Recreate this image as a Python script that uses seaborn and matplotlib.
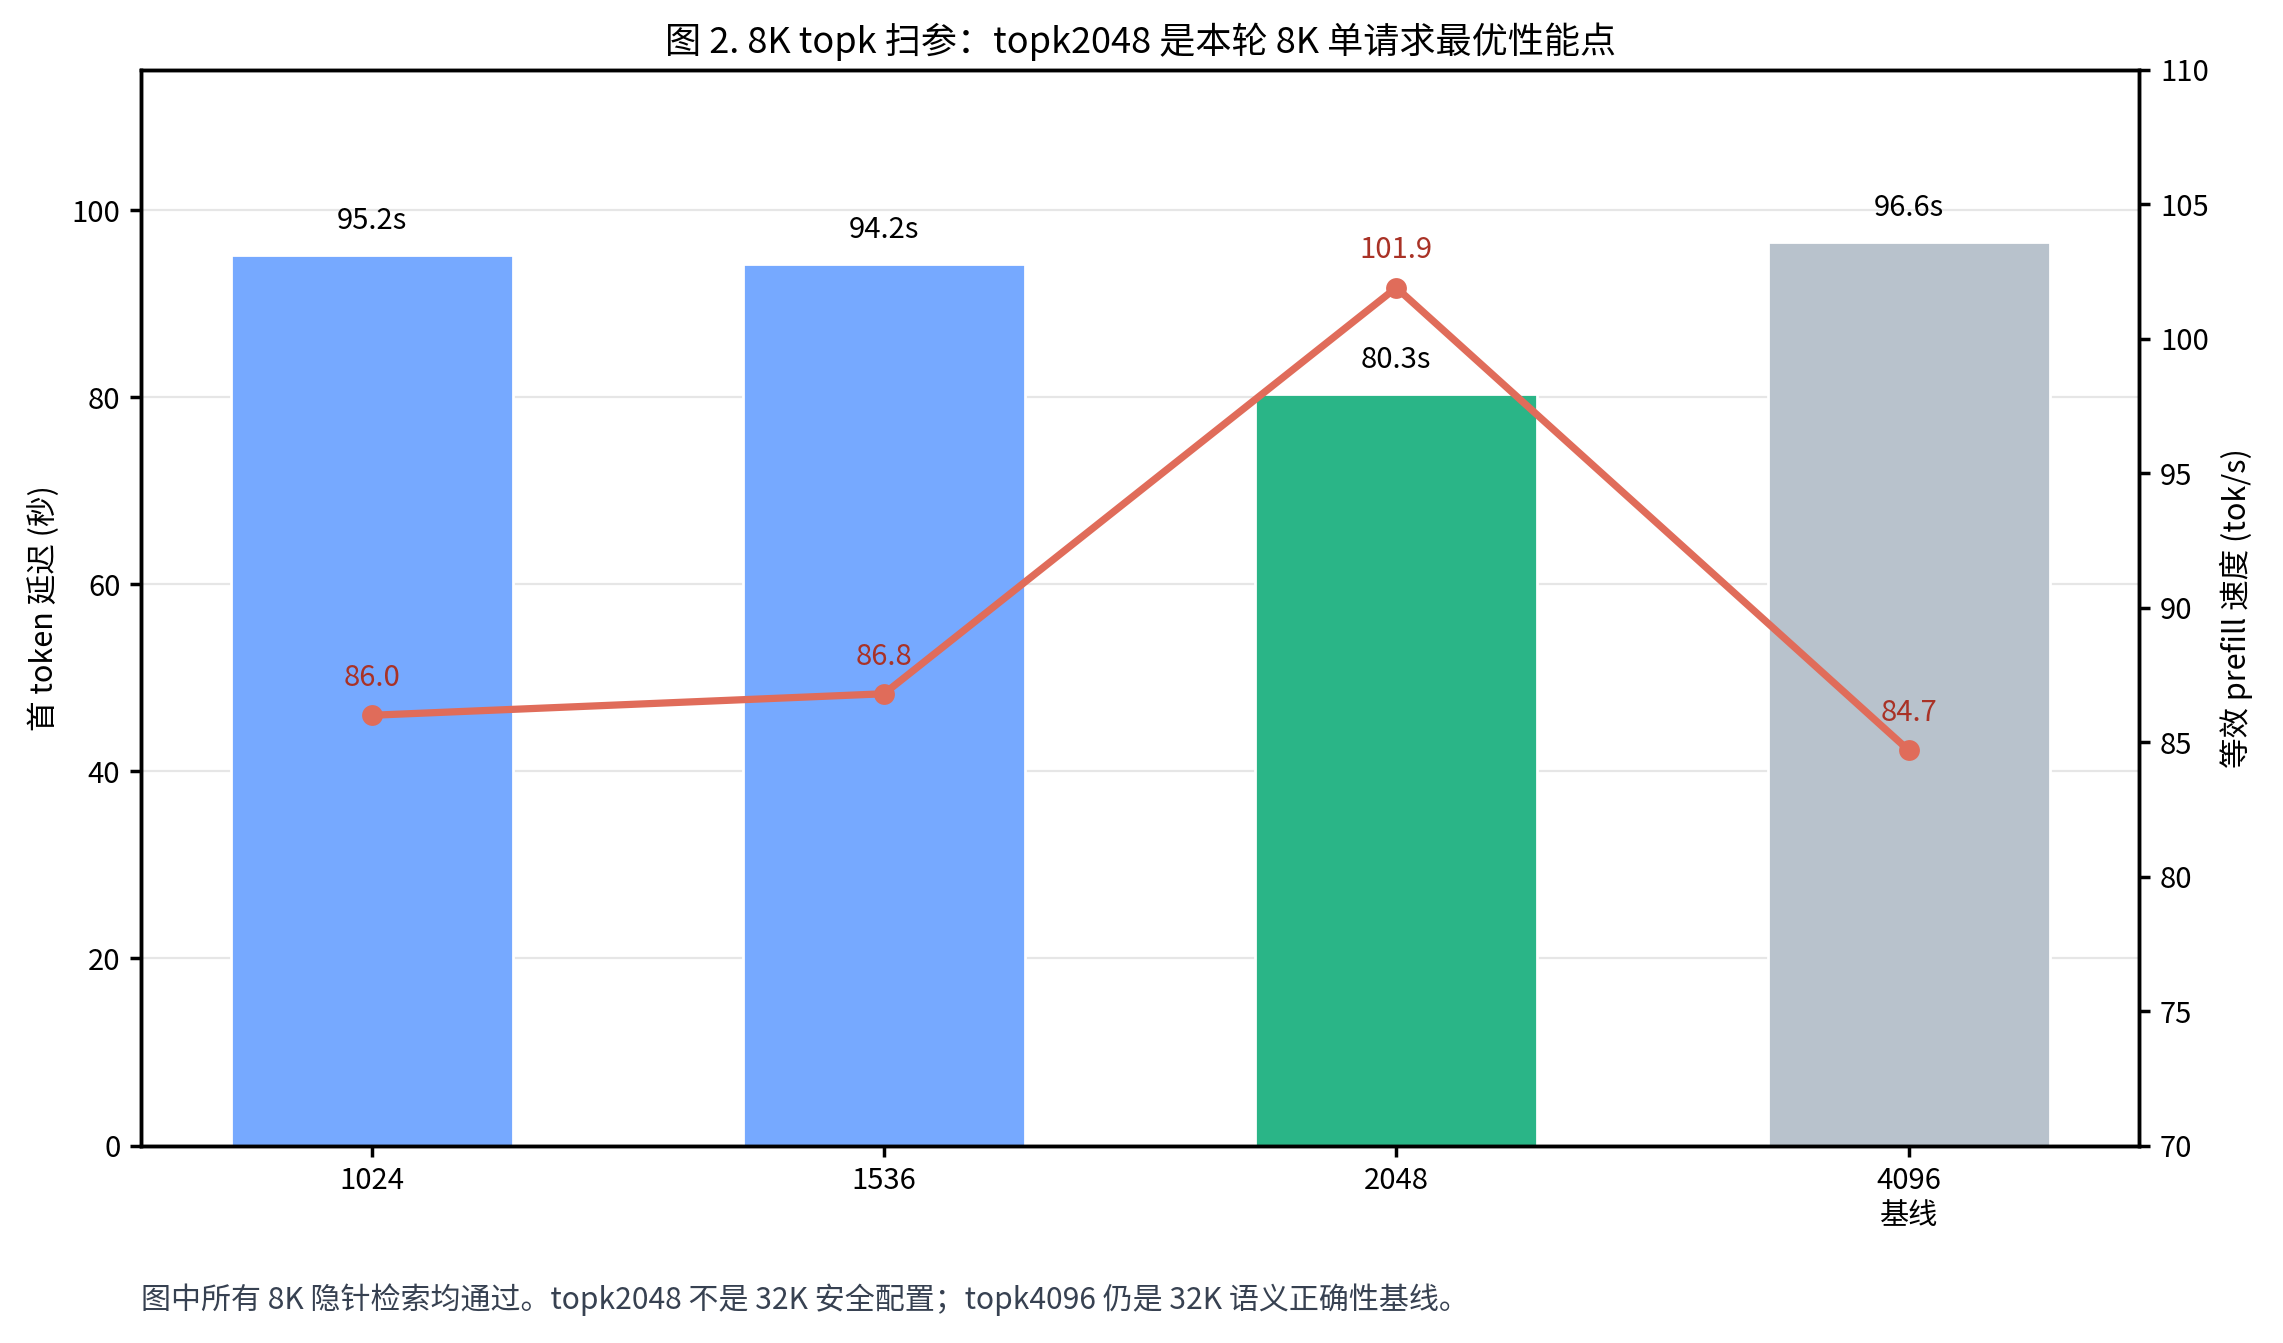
import numpy as np
import pandas as pd
import matplotlib
matplotlib.use("Agg")
import matplotlib.pyplot as plt
import seaborn as sns

# data
topk = ["1024", "1536", "2048", "4096"]
tick_labels = ["1024", "1536", "2048", "4096\n基线"]
ttft = [95.2, 94.2, 80.3, 96.6]
prefill_speed = [86.0, 86.8, 101.9, 84.7]
bar_colors = ["#76a9ff", "#76a9ff", "#2ab587", "#b8c2cc"]

sns.set_theme(style="white")
plt.rcParams['font.family'] = ['Noto Sans CJK SC', 'DejaVu Sans']
plt.rcParams['axes.unicode_minus'] = False
plt.rcParams['text.color'] = 'black'
plt.rcParams['axes.labelcolor'] = 'black'
plt.rcParams['xtick.color'] = 'black'
plt.rcParams['ytick.color'] = 'black'

df = pd.DataFrame({"topk": topk, "ttft": ttft, "speed": prefill_speed})

fig, ax = plt.subplots(figsize=(11.415, 6.715), dpi=200)
fig.subplots_adjust(left=0.0618, right=0.937, top=0.948, bottom=0.147)

sns.barplot(data=df, x="topk", y="ttft", hue="topk", palette=bar_colors,
            width=0.55, legend=False, ax=ax, saturation=1)
ax.set_ylim(0, 115)
ax.set_yticks([0, 20, 40, 60, 80, 100])
ax.yaxis.grid(True, color="#e6e6e6", linewidth=0.8)
ax.set_axisbelow(True)
ax.set_xlabel("")
ax.set_ylabel("首 token 延迟 (秒)", fontsize=11)
ax.set_xticks(range(len(topk)))
ax.set_xticklabels(tick_labels, fontsize=10.5)
ax.tick_params(axis="y", labelsize=10.5)
ax.tick_params(axis="both", which="both", left=True, bottom=True, length=4, color="black")
for s in ax.spines.values():
    s.set_color("black")

for i, v in enumerate(ttft):
    ax.annotate(f"{v:.1f}s", (i, v), xytext=(0, 7), textcoords="offset points",
                ha="center", va="bottom", fontsize=10.5, color="black")

ax2 = ax.twinx()
sns.lineplot(x=np.arange(len(topk)), y=prefill_speed, ax=ax2, color="#e06c5a",
             linewidth=2.6, marker="o", markersize=7.5, markeredgewidth=0)
ax2.set_ylim(70, 110)
ax2.set_yticks(range(70, 111, 5))
ax2.set_ylabel("等效 prefill 速度 (tok/s)", fontsize=11)
ax2.tick_params(axis="y", labelsize=10.5, right=True, length=4, color="black")
for s in ax2.spines.values():
    s.set_color("black")
for i, v in enumerate(prefill_speed):
    ax2.annotate(f"{v:.1f}", (i, v), xytext=(0, 8), textcoords="offset points",
                 ha="center", va="bottom", fontsize=10.5, color="#a93226")

ax.set_xlim(-0.45, 3.45)
ax.set_title("图 2. 8K topk 扫参：topk2048 是本轮 8K 单请求最优性能点", fontsize=13, color="black")

fig.text(0.0618, 0.032, "图中所有 8K 隐针检索均通过。topk2048 不是 32K 安全配置；topk4096 仍是 32K 语义正确性基线。",
         fontsize=10.8, color="#374151", ha="left", va="center")

fig.savefig("out.png", dpi=200)
